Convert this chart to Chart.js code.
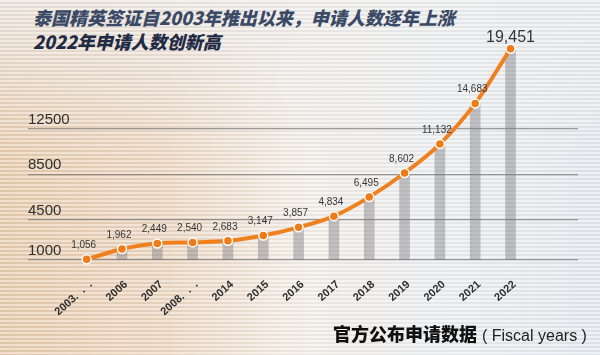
<!DOCTYPE html>
<html>
<head>
<meta charset="utf-8">
<script src="https://cdn.jsdelivr.net/npm/chart.js@4.4.1/dist/chart.umd.min.js"></script>
<style>
  html, body { margin: 0; padding: 0; }
  body {
    width: 600px; height: 355px; overflow: hidden; position: relative;
    background:
      repeating-linear-gradient(to bottom, rgba(255,255,255,0.38) 0px, rgba(255,255,255,0.38) 2px, rgba(0,0,0,0.03) 2px, rgba(0,0,0,0.03) 4px),
      linear-gradient(to bottom, rgba(236,236,236,0.75) 0%, rgba(236,236,236,0.0) 45%),
      linear-gradient(to right, #e7cbad 0%, #ecd7c2 28%, #f3ede7 50%, #eceef0 72%, #e2e8ee 100%);
  }
  #wrap { position: absolute; left: 0; top: 0; width: 600px; height: 355px; }
  .title {
    position: absolute; left: 33px; font-family: "Noto Sans CJK SC", sans-serif;
    font-weight: 900; font-style: italic; font-size: 18px; line-height: 20px; white-space: nowrap;
  }
  #t1 { top: 7px; color: #3a4966; }
  #t2 { top: 31px; color: #1f2b44; }
  #foot {
    position: absolute; left: 333px; top: 322px; white-space: nowrap; line-height: 22px;
  }
  #foot .cn { font-family: "Noto Sans CJK SC", sans-serif; font-weight: 900; font-size: 18px; color: #111; }
  #foot .en { font-family: "Liberation Sans", Arial, sans-serif; font-size: 16px; color: #222; margin-left: 5px; }
</style>
</head>
<body>
<div id="t1" class="title">泰国精英签证自2003年推出以来，申请人数逐年上涨</div>
<div id="t2" class="title">2022年申请人数创新高</div>
<div id="wrap"><canvas id="c" width="600" height="355"></canvas></div>
<div id="foot"><span class="cn">官方公布申请数据</span><span class="en">( Fiscal years )</span></div>
<script>
// ---- data ----
const categories = ["2003.  .  .", "2006", "2007", "2008.  .  .", "2014", "2015", "2016", "2017", "2018", "2019", "2020", "2021", "2022"];
const applicants = [1056, 1962, 2449, 2540, 2683, 3147, 3857, 4834, 6495, 8602, 11132, 14683, 19451];
const yTickValues = [1000, 4500, 8500, 12500];

const points = applicants.map((v, i) => ({ x: i, y: v }));

const valueLabels = {
  id: 'valueLabels',
  afterDatasetsDraw(chart) {
    const ctx = chart.ctx;
    const meta = chart.getDatasetMeta(0);
    ctx.save();
    ctx.fillStyle = '#363636';
    ctx.textAlign = 'center';
    ctx.textBaseline = 'alphabetic';
    meta.data.forEach((pt, i) => {
      const last = i === meta.data.length - 1;
      ctx.font = last ? '16px "Liberation Sans", Arial, sans-serif' : '10px "Liberation Sans", Arial, sans-serif';
      ctx.fillText(applicants[i].toLocaleString('en-US'), pt.x - (last ? 0 : 3), pt.y - (last ? 7 : 11));
    });
    ctx.restore();
  }
};

new Chart(document.getElementById('c'), {
  type: 'bar',
  data: {
    datasets: [
      {
        type: 'line',
        data: points,
        order: 0,
        borderColor: '#f07f1e',
        borderWidth: 4,
        cubicInterpolationMode: 'monotone',
        pointRadius: 4.5,
        pointBackgroundColor: '#ee7b18',
        pointBorderColor: '#ffffff',
        pointBorderWidth: 1.5,
        clip: false
      },
      {
        type: 'bar',
        data: points,
        order: 1,
        backgroundColor: 'rgba(120,120,126,0.42)',
        barThickness: 10
      }
    ]
  },
  options: {
    responsive: false,
    animation: false,
    events: [],
    layout: { padding: { left: 28, right: 22, top: 38, bottom: 0 } },
    plugins: { legend: { display: false }, tooltip: { enabled: false } },
    scales: {
      x: {
        type: 'linear',
        offset: false,
        min: -1.66,
        max: 13.91,
        grid: { display: false, drawTicks: false, offset: false },
        border: { display: false },
        afterBuildTicks(scale) { scale.ticks = categories.map((_, i) => ({ value: i })); },
        afterFit(scale) { scale.height = 95; },
        ticks: {
          autoSkip: false,
          minRotation: 42,
          maxRotation: 42,
          padding: 18,
          labelOffset: 4,
          color: '#2e2e2e',
          font: { family: '"Liberation Sans", Arial, sans-serif', size: 11, weight: 'bold' },
          callback: (v) => categories[v] ?? ''
        }
      },
      y: {
        min: 1000,
        max: 20400,
        afterBuildTicks(scale) { scale.ticks = yTickValues.map(v => ({ value: v })); },
        grid: { color: 'rgba(95,95,95,0.6)', lineWidth: 1.3, drawTicks: false },
        border: { display: false },
        ticks: {
          mirror: true,
          padding: 0,
          labelOffset: -9,
          color: '#303030',
          font: { family: '"Liberation Sans", Arial, sans-serif', size: 15 },
          callback: (v) => String(v)
        }
      }
    }
  },
  plugins: [valueLabels]
});
</script>
</body>
</html>
